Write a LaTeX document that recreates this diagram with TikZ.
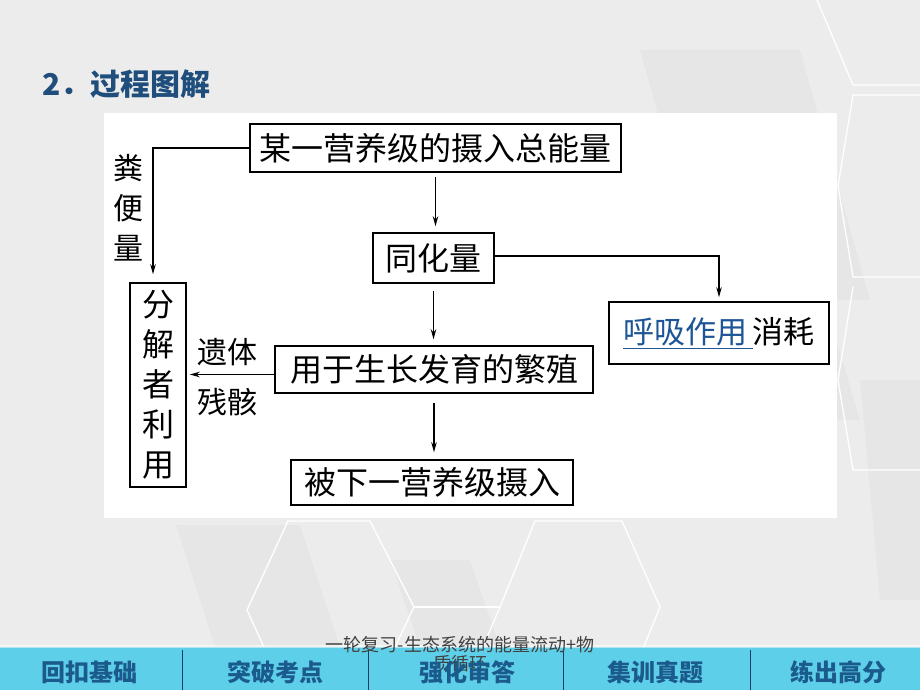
\documentclass[tikz,border=0pt]{standalone}
\usepackage{fontspec}
\newfontfamily\cjk{Noto Sans CJK SC}
\usetikzlibrary{arrows.meta}
\definecolor{slidegray}{HTML}{ECECEC}
\definecolor{titleblue}{HTML}{1F4E7D}
\definecolor{barcyan}{HTML}{5ECFE8}
\definecolor{barblue}{HTML}{1B5A8C}
\definecolor{keyblue}{HTML}{1E5596}
\tikzset{
  stage/.style={draw, line width=1.6pt, inner sep=0pt, font=\cjk\fontsize{32}{36}\selectfont},
  flow/.style={line width=1.2pt, -{Stealth[length=10pt,width=5.5pt]}},
  sidelabel/.style={font=\cjk\fontsize{30}{40}\selectfont, align=center, inner sep=0pt},
  tab/.style={font=\cjk\bfseries\fontsize{24}{28}\selectfont, text=barblue},
  hexline/.style={draw=white, line width=1.3pt},
  shade/.style={fill=black, opacity=0.025},
}

\begin{document}
\begin{tikzpicture}[x=1pt, y=-1pt]
	%%%%% BACKGROUND %%%%%
	\useasboundingbox (0,0) rectangle (920,690);
	\fill[slidegray] (0,0) rectangle (920,690);
	
	\fill[shade] (640,50) -- (800,50) -- (870,300) -- (710,300) -- cycle;
	\fill[shade] (700,150) -- (780,150) -- (860,420) -- (780,420) -- cycle;
	\fill[shade] (176,525) -- (300,525) -- (340,647) -- (215,647) -- cycle;
	\fill[shade] (390,560) -- (470,560) -- (500,647) -- (420,647) -- cycle;
	\fill[shade] (860,380) -- (920,380) -- (920,600) -- (880,600) -- cycle;
	
	\draw[hexline] (817,0) -- (853,85) -- (920,85);
	\draw[hexline] (920,95) -- (853,95) -- (838,186) -- (853,277) -- (920,277);
	\draw[hexline] (853,287) -- (838,380) -- (853,470) -- (920,470);
	\draw[hexline] (288,700) -- (247,610) -- (288,521) -- (370,521) -- (414,607) -- (370,700);
	\draw[hexline] (414,607) -- (500,607);
	\draw[hexline] (460,700) -- (500,607) -- (535,521) -- (622,521) -- (660,607) -- (622,700);
	
	%%%%% TITLE %%%%%
	\node[font=\cjk\bfseries\fontsize{30}{34}\selectfont, text=titleblue, anchor=west, inner sep=0pt] (title) at (42,84) {2．过程图解};
	
	%%%%% DIAGRAM %%%%%
	\fill[white] (104,113) rectangle (837,518);
	
	\node[stage, minimum width=371pt, minimum height=48pt] (sheru) at (435.5,148) {某一营养级的摄入总能量};
	\node[stage, minimum width=121pt, minimum height=50pt] (tonghua) at (433.5,258) {同化量};
	\node[stage, minimum width=220pt, minimum height=62pt, font=\cjk\fontsize{31}{36}\selectfont] (huxi) at (719,333) {\textcolor{keyblue}{\underline{呼吸作用\,}}消耗};
	\node[stage, minimum width=318pt, minimum height=47pt] (fanzhi) at (434,369.5) {用于生长发育的繁殖};
	\node[stage, minimum width=56pt, minimum height=204pt, align=center, font=\cjk\fontsize{32}{40}\selectfont] (fenjie) at (158,385) {分\\解\\者\\利\\用};
	\node[stage, minimum width=282pt, minimum height=45pt] (beishe) at (432,482.5) {被下一营养级摄入};
	
	\node[sidelabel] (fenbian) at (128,208) {粪\\便\\量};
	\node[sidelabel, font=\cjk\fontsize{30}{50}\selectfont] (yiti) at (227,377) {遗体\\残骸};
	
	\draw[flow, shorten >=8pt] (sheru.west) -| ([xshift=-5pt]fenjie.north);
	\draw[flow, shorten <=4pt, shorten >=6pt] (sheru.south) -- (sheru.south |- tonghua.north);
	\draw[flow, shorten >=4pt] ([yshift=2pt]tonghua.east) -| (huxi.north);
	\draw[flow, shorten <=7pt, shorten >=6pt] (tonghua.south) -- (tonghua.south |- fanzhi.north);
	\draw[flow, shorten >=3pt] ([yshift=-5pt]fanzhi.west) -- ([yshift=-5pt]fanzhi.west -| fenjie.east);
	\draw[flow, shorten <=9pt, shorten >=7pt] (fanzhi.south) -- (fanzhi.south |- beishe.north);
	
	%%%%% FOOTER %%%%%
	\fill[barcyan] (0,647) rectangle (920,690);
	\fill[white, opacity=0.5] (0,645) rectangle (920,648);
	\foreach \sx in {182,368,563,750}
		\draw[barblue!70!black, line width=0.9pt] (\sx,650) -- (\sx,690);
	
	\node[font=\cjk\fontsize{18}{19}\selectfont, text=black!75, align=center, inner sep=0pt] (note) at (460,654) {一轮复习-生态系统的能量流动+物\\质循环};
	
	\foreach \tx/\tname/\ttext in {89/huikou/回扣基础, 275/tupo/突破考点, 467/qianghua/强化审答, 655/jixun/集训真题, 838/lianchu/练出高分}
		\node[tab] (\tname) at (\tx,672) {\ttext};
	
	%%%%% END %%%%%
\end{tikzpicture}
\end{document}
